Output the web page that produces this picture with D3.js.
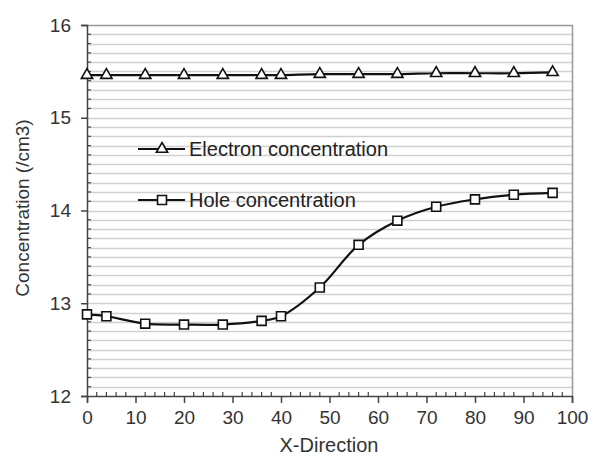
<!DOCTYPE html>
<html>
<head>
<meta charset="utf-8">
<script src="https://cdn.jsdelivr.net/npm/d3@7/dist/d3.min.js"></script>
<style>
  html, body { margin: 0; padding: 0; background: #fff; }
  svg { display: block; font-family: "Liberation Sans", Arial, sans-serif; }
</style>
</head>
<body>
<svg id="chart" width="595" height="457"></svg>
<script>
const xPositions = [0, 4, 12, 20, 28, 36, 40, 48, 56, 64, 72, 80, 88, 96];
const electronValues = [15.46, 15.46, 15.46, 15.46, 15.46, 15.46, 15.46, 15.47, 15.47, 15.47, 15.48, 15.48, 15.48, 15.49];
const holeValues = [12.88, 12.86, 12.78, 12.77, 12.77, 12.81, 12.86, 13.17, 13.63, 13.89, 14.04, 14.12, 14.17, 14.19];
const seriesNames = ["Electron concentration", "Hole concentration"];
const xTicks = [0, 10, 20, 30, 40, 50, 60, 70, 80, 90, 100];
const yTicks = [12, 13, 14, 15, 16];
const xTitle = "X-Direction";
const yTitle = "Concentration (/cm3)";

const svg = d3.select("#chart");
const L = 87, R = 572, T = 25, B = 396;
const x = d3.scaleLinear().domain([0, 100]).range([L, R]);
const y = d3.scaleLinear().domain([12, 16]).range([B, T]);

// minor gridlines every 0.1
const minorY = d3.range(121, 160).map(v => v / 10);
svg.append("g").selectAll("line").data(minorY).join("line")
  .attr("x1", L).attr("x2", R)
  .attr("y1", d => Math.round(y(d)) + 0.5).attr("y2", d => Math.round(y(d)) + 0.5)
  .attr("stroke", "#d0d0d0").attr("stroke-width", 1.3);

// plot border (top & right)
svg.append("path")
  .attr("d", `M${L},${T + 0.5}H${R + 0.5}V${B}`)
  .attr("fill", "none").attr("stroke", "#999").attr("stroke-width", 1.5);

// Y axis
const yAxis = d3.axisLeft(y).tickValues(yTicks).tickFormat(d3.format("d")).tickSize(6).tickPadding(10);
const gy = svg.append("g").attr("transform", `translate(${L},0)`).call(yAxis);
gy.select(".domain").attr("stroke", "#444").attr("stroke-width", 1.5);
gy.selectAll(".tick line").attr("stroke", "#444").attr("stroke-width", 1.5);
gy.selectAll("text").attr("font-size", 19).attr("fill", "#333");
// y minor ticks
svg.append("g").selectAll("line").data(minorY.filter(v => Math.abs(v - Math.round(v)) > 1e-6)).join("line")
  .attr("x1", L).attr("x2", L + 4)
  .attr("y1", d => y(d)).attr("y2", d => y(d))
  .attr("stroke", "#444").attr("stroke-width", 1.2);

// X axis
const xAxis = d3.axisBottom(x).tickValues(xTicks).tickSize(7).tickPadding(8);
const gx = svg.append("g").attr("transform", `translate(0,${B})`).call(xAxis);
gx.select(".domain").attr("stroke", "#444").attr("stroke-width", 1.5);
gx.selectAll(".tick line").attr("stroke", "#444").attr("stroke-width", 1.5);
gx.selectAll("text").attr("font-size", 19).attr("fill", "#333");
const minorX = d3.range(2, 100, 2).filter(v => v % 10 !== 0);
svg.append("g").selectAll("line").data(minorX).join("line")
  .attr("x1", d => x(d)).attr("x2", d => x(d))
  .attr("y1", B - 4).attr("y2", B)
  .attr("stroke", "#444").attr("stroke-width", 1.2);

// axis titles
svg.append("text").attr("transform", `translate(29,208) rotate(-90)`)
  .attr("text-anchor", "middle").attr("font-size", 19).attr("fill", "#333").text(yTitle);
svg.append("text").attr("x", 329).attr("y", 452)
  .attr("text-anchor", "middle").attr("font-size", 20).attr("fill", "#333").text(xTitle);

// lines
const line = d3.line().x(d => x(d[0])).y(d => y(d[1])).curve(d3.curveCatmullRom.alpha(0.5));
const eData = xPositions.map((v, i) => [v, electronValues[i]]);
const hData = xPositions.map((v, i) => [v, holeValues[i]]);
svg.append("path").datum(eData).attr("d", line).attr("fill", "none").attr("stroke", "#111").attr("stroke-width", 2.2);
svg.append("path").datum(hData).attr("d", line).attr("fill", "none").attr("stroke", "#111").attr("stroke-width", 2.2);

const tri = d3.symbol().type(d3.symbolTriangle).size(55);
const sq = d3.symbol().type(d3.symbolSquare).size(80);
svg.append("g").selectAll("path").data(eData).join("path")
  .attr("d", tri).attr("transform", d => `translate(${x(d[0])},${y(d[1])})`)
  .attr("fill", "#fff").attr("stroke", "#111").attr("stroke-width", 1.6);
svg.append("g").selectAll("path").data(hData).join("path")
  .attr("d", sq).attr("transform", d => `translate(${x(d[0])},${y(d[1])})`)
  .attr("fill", "#fff").attr("stroke", "#111").attr("stroke-width", 1.6);

// legend
const legend = [
  { name: seriesNames[0], sym: tri, yy: 149 },
  { name: seriesNames[1], sym: sq, yy: 200 }
];
legend.forEach(l => {
  svg.append("line").attr("x1", 138).attr("x2", 185).attr("y1", l.yy).attr("y2", l.yy)
    .attr("stroke", "#111").attr("stroke-width", 2.2);
  svg.append("path").attr("d", l.sym).attr("transform", `translate(162,${l.yy})`)
    .attr("fill", "#fff").attr("stroke", "#111").attr("stroke-width", 1.6);
  svg.append("text").attr("x", 189).attr("y", l.yy).attr("dy", "0.36em")
    .attr("font-size", 20).attr("fill", "#222").text(l.name);
});
</script>
</body>
</html>
